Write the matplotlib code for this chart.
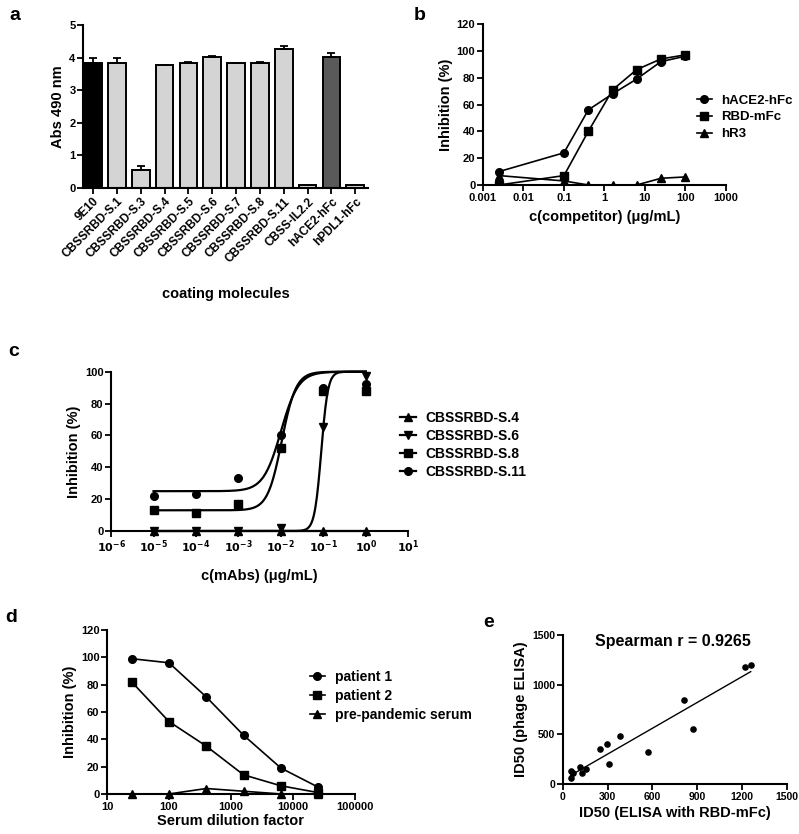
import numpy as np
import matplotlib.pyplot as plt
from matplotlib.lines import Line2D
from matplotlib.ticker import FixedLocator, NullLocator

plt.rcParams['font.family'] = ['Liberation Sans', 'DejaVu Sans']
plt.rcParams['font.weight'] = 'bold'
plt.rcParams['axes.labelweight'] = 'bold'
plt.rcParams['mathtext.default'] = 'bf'

# ---- panel a data
a_labels = ['9E10', 'CBSSRBD-S.1', 'CBSSRBD-S.3', 'CBSSRBD-S.4', 'CBSSRBD-S.5',
            'CBSSRBD-S.6', 'CBSSRBD-S.7', 'CBSSRBD-S.8', 'CBSSRBD-S.11',
            'CBSS-IL2.2', 'hACE2-hFc', 'hPDL1-hFc']
a_values = [3.83, 3.85, 0.56, 3.76, 3.85, 4.02, 3.84, 3.84, 4.27, 0.08, 4.02, 0.09]
a_errors = [0.17, 0.13, 0.11, 0.0, 0.03, 0.03, 0.01, 0.03, 0.09, 0.02, 0.13, 0.01]
a_colors = ['#000000'] + ['#d4d4d4'] * 9 + ['#5a5a5a', '#d4d4d4']

# ---- panel b data
b_conc = [0.0025, 0.1, 0.4, 1.6, 6.25, 25, 100]
b_hace2 = [10, 24, 56, 68, 79, 92, 96]
b_rbd = [0, 7, 40, 71, 86, 94, 97]
b_hr3 = [7, 3, 0, 0, 0, 5, 6]

# ---- panel c data
c_conc = [1e-5, 1e-4, 1e-3, 1e-2, 1e-1, 1e0]
c_s4 = [0, 0, 0, 0, 0, 0]
c_s6 = [0, 0, 0, 2, 65, 97]
c_s8 = [13, 11, 17, 52, 88, 88]
c_s11 = [22, 23, 33, 60, 90, 92]
# fitted sigmoid (bottom, top, logEC50, hill)
c_fits = {'s4': (0, 0, 0, 1), 's6': (0, 100, -1.05, 5.5),
          's8': (13, 100, -1.98, 2.6), 's11': (25, 100, -2.0, 2.1)}

# ---- panel d data
d_dil = [25, 100, 400, 1600, 6400, 25600]
d_p1 = [99, 96, 71, 43, 19, 5]
d_p2 = [82, 53, 35, 14, 6, 1]
d_pre = [0, 0, 4, 2, 0, 0]

# ---- panel e data
e_x = [51, 55, 65, 114, 125, 154, 248, 297, 308, 384, 567, 810, 875, 1219, 1259]
e_y = [57, 130, 110, 175, 114, 151, 349, 400, 201, 483, 326, 846, 557, 1175, 1201]

fig = plt.figure(figsize=(7.99, 8.34), dpi=100)

TICK = 8
LAB = 10.5
LEG = 10


def style(ax, tsize=TICK):
    for s in ['top', 'right']:
        ax.spines[s].set_visible(False)
    for s in ['left', 'bottom']:
        ax.spines[s].set_linewidth(1.5)
    ax.tick_params(width=1.3, length=4, labelsize=tsize, pad=1.5)
    for t in ax.get_xticklabels() + ax.get_yticklabels():
        t.set_fontweight('bold')


def leg(ax, size=LEG, **kw):
    ax.legend(frameon=False, prop=dict(size=size, weight='bold'), handlelength=1.1,
              labelspacing=0.35, handletextpad=0.7, borderaxespad=0, **kw)


# ---- a
ax = fig.add_axes([0.104, 0.7746, 0.357, 0.1954])
xs = np.arange(len(a_values))
ax.bar(xs, a_values, width=0.74, color=a_colors, edgecolor='black', linewidth=1.4,
       yerr=[np.zeros(len(a_errors)), a_errors], capsize=3,
       error_kw=dict(elinewidth=1.3, capthick=1.3, ecolor='black'))
ax.set_xlim(-0.42, 11.55)
ax.set_ylim(0, 5)
ax.set_yticks([0, 1, 2, 3, 4, 5])
ax.set_xticks(xs)
ax.set_xticklabels(a_labels, rotation=45, ha='right', rotation_mode='anchor')
ax.set_ylabel('Abs 490 nm', fontsize=LAB, labelpad=3)
ax.set_xlabel('coating molecules', fontsize=LAB, labelpad=16)
style(ax)
ax.tick_params(axis='x', labelsize=8.5)

# ---- b
ax = fig.add_axes([0.6045, 0.7782, 0.304, 0.193])
ax.plot(b_conc, b_hace2, '-o', color='black', ms=5.5, lw=1.2, label='hACE2-hFc')
ax.plot(b_conc, b_rbd, '-s', color='black', ms=5.5, lw=1.2, label='RBD-mFc')
ax.plot(b_conc, b_hr3, '-^', color='black', ms=5.5, lw=1.2, label='hR3')
ax.set_xscale('log')
ax.set_xlim(0.001, 1000)
ax.set_ylim(0, 120)
ax.set_yticks(range(0, 121, 20))
bt = [0.001, 0.01, 0.1, 1, 10, 100, 1000]
ax.xaxis.set_major_locator(FixedLocator(bt))
ax.xaxis.set_minor_locator(NullLocator())
ax.set_xticklabels(['0.001', '0.01', '0.1', '1', '10', '100', '1000'])
ax.set_ylabel('Inhibition (%)', fontsize=LAB, labelpad=3)
ax.set_xlabel('c(competitor) (μg/mL)', fontsize=LAB, labelpad=5)
leg(ax, size=9.5, loc='center left', bbox_to_anchor=(0.86, 0.42))
style(ax)

# ---- c
ax = fig.add_axes([0.139, 0.3633, 0.372, 0.191])
xf = np.logspace(-5, 0, 300)
series = [('CBSSRBD-S.4', c_s4, '^', 's4'), ('CBSSRBD-S.6', c_s6, 'v', 's6'),
          ('CBSSRBD-S.8', c_s8, 's', 's8'), ('CBSSRBD-S.11', c_s11, 'o', 's11')]
handles = []
for name, vals, mk, key in series:
    bot, top, lec, h = c_fits[key]
    yf = bot + (top - bot) / (1 + 10 ** (h * (lec - np.log10(xf))))
    ax.plot(xf, yf, '-', color='black', lw=1.6, clip_on=False)
    ax.plot(c_conc, vals, mk, color='black', ms=5.5, clip_on=False)
    handles.append(Line2D([], [], color='black', marker=mk, ms=5.5, lw=1.6, label=name))
ax.set_xscale('log')
ax.set_xlim(1e-6, 1e1)
ax.set_ylim(0, 100)
ax.set_yticks(range(0, 101, 20))
ct = [10.0 ** k for k in range(-6, 2)]
ax.xaxis.set_major_locator(FixedLocator(ct))
ax.xaxis.set_minor_locator(NullLocator())
ax.set_xticklabels([r'$\mathbf{10^{%d}}$' % k for k in range(-6, 2)])
ax.set_ylabel('Inhibition (%)', fontsize=LAB, labelpad=3)
ax.set_xlabel('c(mAbs) (μg/mL)', fontsize=LAB, labelpad=10)
ax.legend(handles=handles, loc='center left', bbox_to_anchor=(0.955, 0.54), frameon=False,
          prop=dict(size=LEG, weight='bold'), handlelength=1.1, labelspacing=0.3,
          handletextpad=0.7, borderaxespad=0)
style(ax)

# ---- d
ax = fig.add_axes([0.134, 0.048, 0.310, 0.1966])
ax.plot(d_dil, d_p1, '-o', color='black', ms=5.5, lw=1.2, label='patient 1', clip_on=False)
ax.plot(d_dil, d_p2, '-s', color='black', ms=5.5, lw=1.2, label='patient 2', clip_on=False)
ax.plot(d_dil, d_pre, '-^', color='black', ms=5.5, lw=1.2, label='pre-pandemic serum',
        clip_on=False)
ax.set_xscale('log')
ax.set_xlim(10, 100000)
ax.set_ylim(0, 120)
ax.set_yticks(range(0, 121, 20))
dt = [10, 100, 1000, 10000, 100000]
ax.xaxis.set_major_locator(FixedLocator(dt))
ax.xaxis.set_minor_locator(NullLocator())
ax.set_xticklabels([str(v) for v in dt])
ax.set_ylabel('Inhibition (%)', fontsize=LAB, labelpad=3)
ax.set_xlabel('Serum dilution factor', fontsize=LAB, labelpad=2)
leg(ax, loc='upper left', bbox_to_anchor=(0.795, 0.79))
style(ax)

# ---- e
ax = fig.add_axes([0.7046, 0.060, 0.280, 0.1787])
ax.scatter(e_x, e_y, s=14, color='black', zorder=3, clip_on=False)
k, b0 = np.polyfit(e_x, e_y, 1)
lx = np.array([min(e_x), max(e_x)])
ax.plot(lx, k * lx + b0, color='black', lw=1.0)
ax.set_xlim(0, 1500)
ax.set_ylim(0, 1500)
ax.set_xticks(range(0, 1501, 300))
ax.set_yticks([0, 500, 1000, 1500])
ax.set_ylabel('ID50 (phage ELISA)', fontsize=LAB, labelpad=3)
ax.set_xlabel('ID50 (ELISA with RBD-mFc)', fontsize=LAB, labelpad=3)
ax.text(0.49, 0.953, 'Spearman r = 0.9265', transform=ax.transAxes, fontsize=11.5,
        fontweight='bold', ha='center', va='center')
style(ax, 7.5)

# panel letters
for lt, x, y in [('a', 0.012, 0.982), ('b', 0.518, 0.982), ('c', 0.010, 0.578),
                 ('d', 0.006, 0.26), ('e', 0.605, 0.254)]:
    fig.text(x, y, lt, fontsize=14, fontweight='bold', va='center', ha='left')

fig.savefig('out.png', dpi=100)
